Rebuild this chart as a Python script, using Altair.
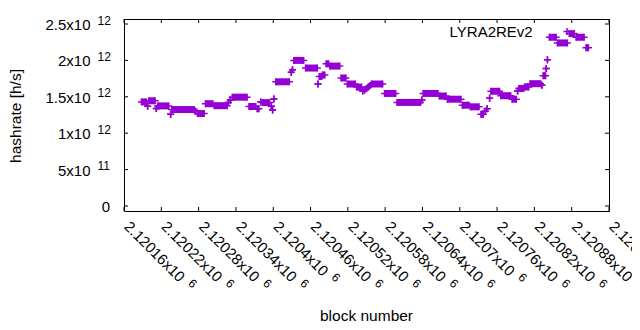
import altair as alt
import pandas as pd

# ---- data (hashrate in units of 1e12 h/s) ----
run_start = [2120188, 2120198, 2120200, 2120212, 2120214, 2120235, 2120237, 2120275,
             2120278, 2120291, 2120305, 2120328, 2120331, 2120334, 2120361, 2120374,
             2120380, 2120383, 2120397, 2120399, 2120401, 2120404, 2120429, 2120431,
             2120433, 2120452, 2120472, 2120474, 2120479, 2120485, 2120491, 2120509,
             2120519, 2120534, 2120544, 2120547, 2120550, 2120553, 2120556, 2120558,
             2120579, 2120599, 2120639, 2120641, 2120667, 2120680, 2120704, 2120717,
             2120734, 2120741, 2120744, 2120748, 2120750, 2120766, 2120784, 2120793,
             2120795, 2120804, 2120813, 2120832, 2120834, 2120839, 2120841, 2120844,
             2120857, 2120876, 2120887, 2120903]
run_end = [2120196, 2120198, 2120210, 2120212, 2120232, 2120235, 2120273, 2120275,
           2120289, 2120303, 2120326, 2120328, 2120331, 2120358, 2120372, 2120377,
           2120380, 2120394, 2120397, 2120399, 2120401, 2120426, 2120429, 2120431,
           2120449, 2120471, 2120472, 2120478, 2120483, 2120489, 2120507, 2120517,
           2120532, 2120542, 2120544, 2120547, 2120550, 2120553, 2120556, 2120576,
           2120597, 2120637, 2120639, 2120665, 2120678, 2120702, 2120715, 2120731,
           2120738, 2120741, 2120744, 2120748, 2120764, 2120782, 2120791, 2120793,
           2120803, 2120811, 2120830, 2120832, 2120838, 2120839, 2120841, 2120855,
           2120873, 2120884, 2120900, 2120907]
run_hashrate = [1.43, 1.37, 1.445, 1.34, 1.375, 1.26, 1.325, 1.30,
                1.27, 1.405, 1.378, 1.42, 1.455, 1.495, 1.367, 1.335,
                1.43, 1.42, 1.37, 1.32, 1.47, 1.706, 1.836, 1.87,
                2.0, 1.895, 1.676, 1.78, 1.80, 1.953, 1.922, 1.758,
                1.676, 1.633, 1.58, 1.595, 1.615, 1.635, 1.655, 1.676,
                1.546, 1.423, 1.455, 1.546, 1.51, 1.467, 1.385, 1.362,
                1.259, 1.30, 1.337, 1.48, 1.576, 1.515, 1.467, 1.58,
                1.615, 1.635, 1.68, 1.66, 1.79, 1.89, 2.01, 2.318,
                2.24, 2.368, 2.318, 2.174]

x_ticks = [2120160, 2120220, 2120280, 2120340, 2120400, 2120460, 2120520,
           2120580, 2120640, 2120700, 2120760, 2120820, 2120880, 2120940]
x_tick_mantissa = ["2.12016", "2.12022", "2.12028", "2.12034", "2.1204", "2.12046",
                   "2.12052", "2.12058", "2.12064", "2.1207", "2.12076", "2.12082",
                   "2.12088", "2.12094"]
x_tick_exp = "6"

y_ticks = [0, 5e11, 1e12, 1.5e12, 2e12, 2.5e12]
y_tick_base = ["0", "5x10", "1x10", "1.5x10", "2x10", "2.5x10"]
y_tick_exp = ["", "11", "12", "12", "12", "12"]

series_label = "LYRA2REv2"
x_title = "block number"
y_title = "hashrate [h/s]"

# ---- tables ----
runs = pd.DataFrame({"start": run_start, "end": run_end,
                     "value": [v * 1e12 for v in run_hashrate]})
xt = pd.DataFrame({"val": x_ticks, "m": [m + "x10" for m in x_tick_mantissa],
                   "n": [len(m) for m in x_tick_mantissa], "e": x_tick_exp})
yt = pd.DataFrame({"val": y_ticks, "base": y_tick_base, "exp": y_tick_exp})
one = pd.DataFrame({"label": [series_label], "xt": [x_title], "yt": [y_title]})

W, H = 485, 192
COLOR = "#9400d3"
FONT = "Liberation Sans"
PLUS = "M-1,0L1,0M0,-1L0,1"

xs = alt.Scale(domain=[2120160, 2120940], nice=False, zero=False)
ys = alt.Scale(domain=[0, 2.5e12], nice=False, zero=False)

bars = alt.Chart(runs).mark_bar(size=7, color=COLOR).encode(
    x=alt.X("start:Q", scale=xs, axis=None),
    x2="end:Q",
    y=alt.Y("value:Q", scale=ys, axis=None),
)
pts = alt.Chart(runs).transform_fold(["start", "end"], as_=["k", "blk"]).mark_point(
    shape=PLUS, size=49, filled=False, strokeWidth=1.5, color=COLOR, opacity=1
).encode(
    x=alt.X("blk:Q", scale=xs, axis=None),
    y=alt.Y("value:Q", scale=ys, axis=None),
)

# inward ticks on all four sides
xtick_b = alt.Chart(xt).mark_rule(color="black", strokeWidth=1).encode(
    x=alt.X("val:Q", scale=xs, axis=None), y=alt.value(H), y2=alt.value(H - 4))
xtick_t = alt.Chart(xt).mark_rule(color="black", strokeWidth=1).encode(
    x=alt.X("val:Q", scale=xs, axis=None), y=alt.value(0), y2=alt.value(4))
ytick_l = alt.Chart(yt).mark_rule(color="black", strokeWidth=1).encode(
    y=alt.Y("val:Q", scale=ys, axis=None), x=alt.value(0), x2=alt.value(4))
ytick_r = alt.Chart(yt).mark_rule(color="black", strokeWidth=1).encode(
    y=alt.Y("val:Q", scale=ys, axis=None), x=alt.value(W), x2=alt.value(W - 4))

# y tick labels (mantissa + raised exponent)
ylab_base = alt.Chart(yt).transform_filter("datum.val > 0").mark_text(
    align="right", baseline="middle", font=FONT, fontSize=15, color="black", dy=1
).encode(y=alt.Y("val:Q", scale=ys, axis=None), x=alt.value(-33.5), text="base:N")
ylab_exp = alt.Chart(yt).transform_filter("datum.val > 0").mark_text(
    align="left", baseline="middle", font=FONT, fontSize=12, color="black", dy=-3.5
).encode(y=alt.Y("val:Q", scale=ys, axis=None), x=alt.value(-26.5), text="exp:N")
ylab_zero = alt.Chart(yt).transform_filter("datum.val == 0").mark_text(
    align="right", baseline="middle", font=FONT, fontSize=15, color="black", dy=1
).encode(y=alt.Y("val:Q", scale=ys, axis=None), x=alt.value(-14), text="base:N")

# x tick labels rotated 45 degrees
xlab_base = alt.Chart(xt).mark_text(
    align="left", baseline="middle", font=FONT, fontSize=15, color="black",
    angle=45, dx=2, dy=-2
).encode(x=alt.X("val:Q", scale=xs, axis=None), y=alt.value(H + 13), text="m:N")
xlab_exp7 = alt.Chart(xt).transform_filter("datum.n == 7").mark_text(
    align="left", baseline="middle", font=FONT, fontSize=12, color="black",
    angle=45, dx=87.4, dy=-6.5
).encode(x=alt.X("val:Q", scale=xs, axis=None), y=alt.value(H + 13), text="e:N")
xlab_exp6 = alt.Chart(xt).transform_filter("datum.n == 6").mark_text(
    align="left", baseline="middle", font=FONT, fontSize=12, color="black",
    angle=45, dx=79.0, dy=-6.5
).encode(x=alt.X("val:Q", scale=xs, axis=None), y=alt.value(H + 13), text="e:N")

xtitle = alt.Chart(one).mark_text(
    align="center", baseline="middle", font=FONT, fontSize=15.5, color="black"
).encode(x=alt.value(W / 2), y=alt.value(297), text="xt:N")
ytitle = alt.Chart(one).mark_text(
    align="center", baseline="middle", font=FONT, fontSize=15.5, color="black", angle=270
).encode(x=alt.value(-108), y=alt.value(97), text="yt:N")

key_text = alt.Chart(one).mark_text(
    align="right", baseline="middle", font=FONT, fontSize=15, color="black"
).encode(x=alt.value(408.7), y=alt.value(12.5), text="label:N")
key_pt = alt.Chart(one).mark_point(
    shape=PLUS, size=49, filled=False, strokeWidth=1.5, color=COLOR, opacity=1
).encode(x=alt.value(443), y=alt.value(12.5))

chart = alt.layer(
    bars, pts, xtick_b, xtick_t, ytick_l, ytick_r,
    ylab_base, ylab_exp, ylab_zero, xlab_base, xlab_exp7, xlab_exp6,
    xtitle, ytitle, key_text, key_pt
).properties(
    width=W, height=H,
    autosize=alt.AutoSizeParams(type="none"),
    padding={"left": 116, "top": 11, "right": 23, "bottom": 111},
).configure_view(stroke="black", strokeWidth=1)

chart.save("out.html", embed_options={"renderer": "svg", "actions": False})
